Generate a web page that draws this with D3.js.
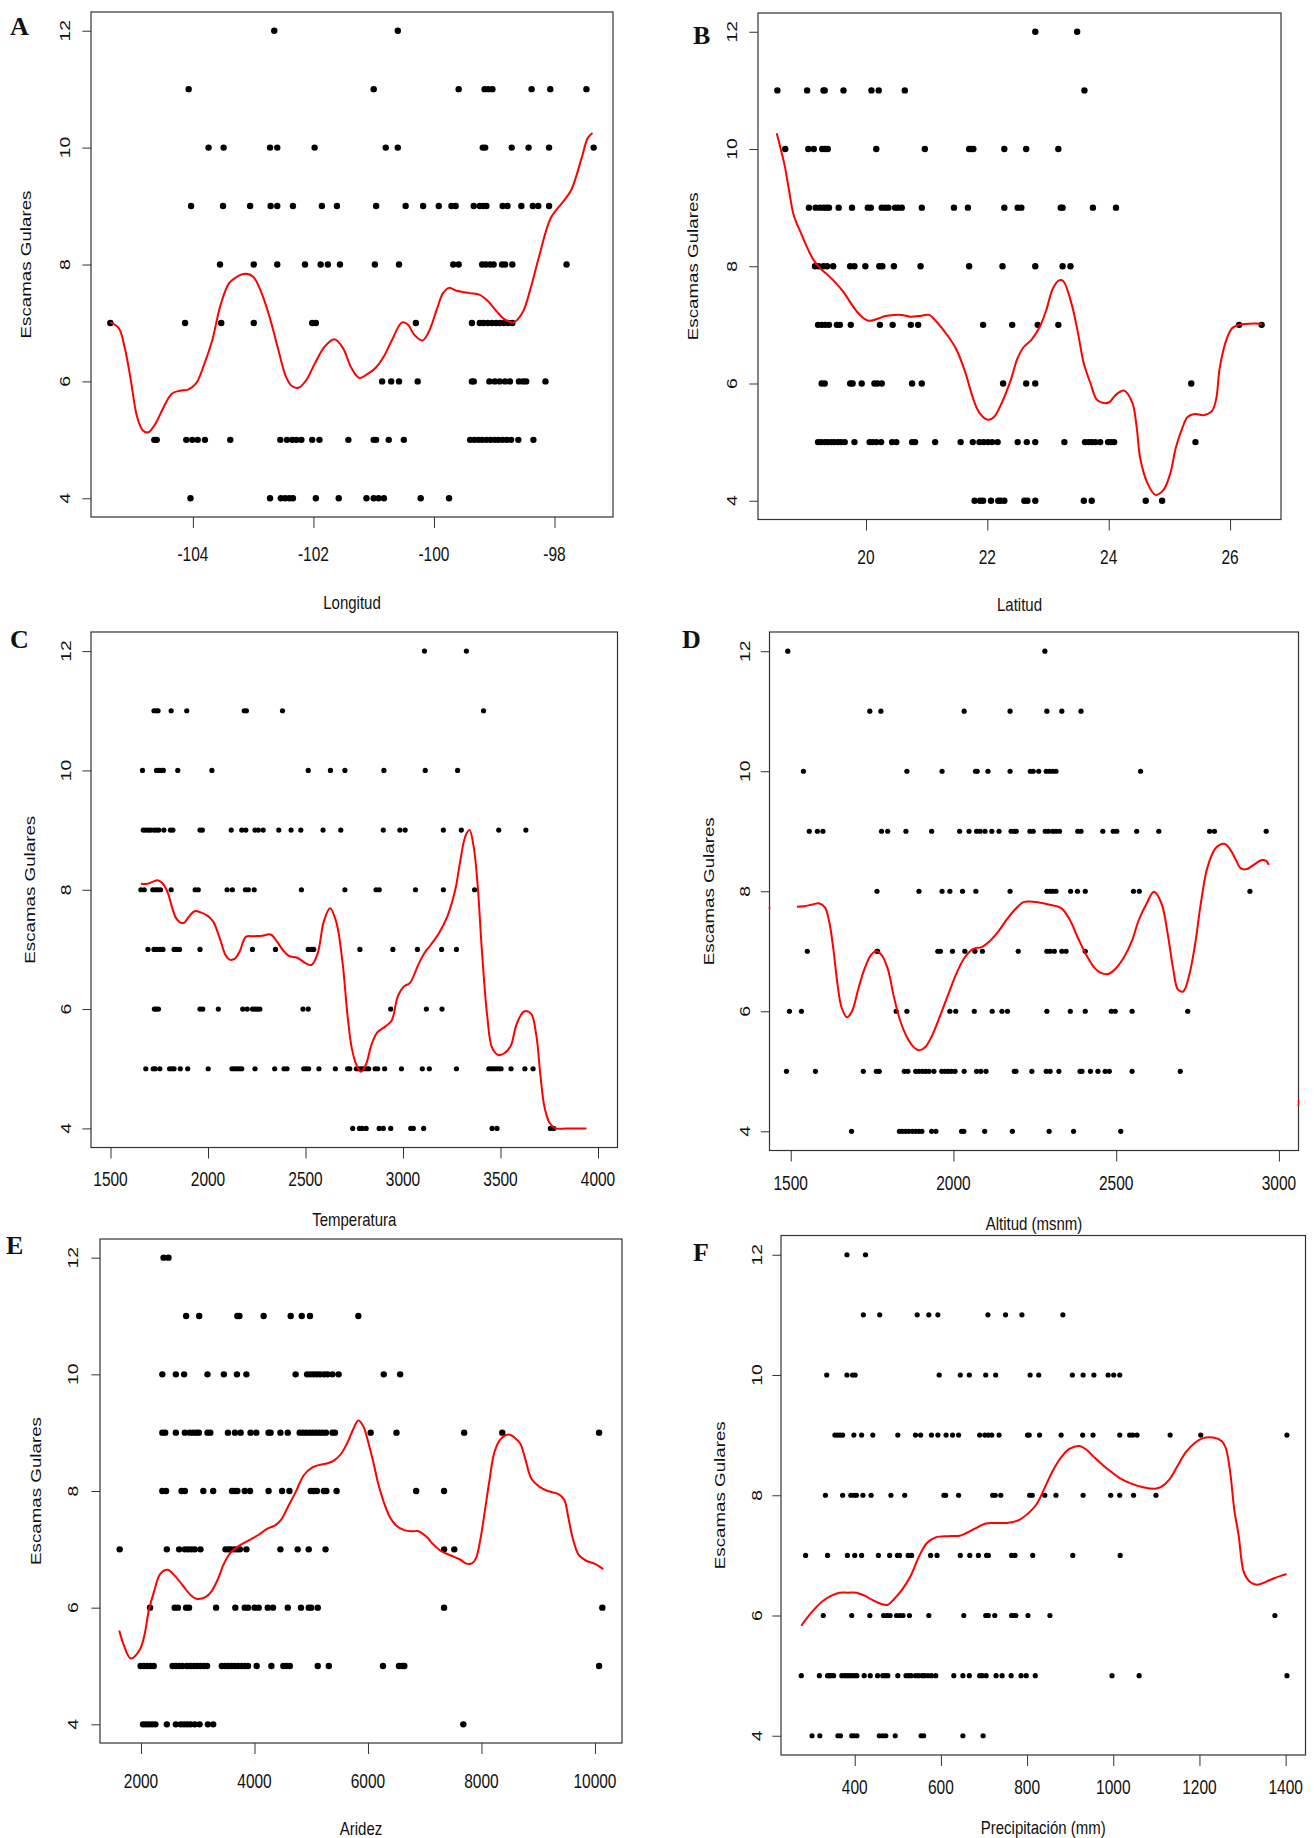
<!DOCTYPE html>
<html>
<head>
<meta charset="utf-8">
<script src="https://cdn.jsdelivr.net/npm/d3@7"></script>
<style>
  body { margin: 0; background: #fff; }
  text { font-family: "Liberation Sans", Arial, sans-serif; fill: #111; }
  .panel-letter { font-family: "Liberation Serif", "Times New Roman", serif; font-weight: bold; }
</style>
</head>
<body>
<svg id="fig"></svg>
<script>
// ---- data ----
const yTicks = [4, 6, 8, 10, 12];
const yTitle = "Escamas Gulares";

// A: Longitud
const lonTicks = [-104, -102, -100, -98];
const lonPoints = [
  [12, [-102.65, -100.60]],
  [11, [-104.07, -101.00, -99.59, -99.16, -99.10, -99.03, -98.38, -98.07, -97.47]],
  [10, [-103.74, -103.49, -102.72, -102.60, -101.98, -100.80, -100.60, -99.19, -99.15, -98.71, -98.43, -98.09, -97.35]],
  [9, [-104.03, -103.50, -103.05, -102.71, -102.60, -102.34, -101.86, -101.61, -100.96, -100.47, -100.18, -99.92, -99.71, -99.64, -99.34, -99.24, -99.18, -99.13, -98.86, -98.78, -98.55, -98.36, -98.27, -98.09]],
  [8, [-103.55, -102.99, -102.60, -102.14, -101.88, -101.76, -101.56, -100.98, -100.58, -99.68, -99.59, -99.20, -99.14, -99.07, -99.01, -98.87, -98.82, -98.70, -97.80]],
  [7, [-105.37, -104.13, -103.53, -102.99, -102.02, -101.96, -100.30, -99.37, -99.24, -99.18, -99.11, -99.04, -98.97, -98.91, -98.84, -98.77, -98.70]],
  [6, [-100.86, -100.71, -100.58, -100.27, -99.37, -99.34, -99.08, -98.99, -98.91, -98.82, -98.74, -98.59, -98.52, -98.47, -98.15]],
  [5, [-104.64, -104.60, -104.11, -104.01, -103.92, -103.80, -103.38, -102.55, -102.44, -102.35, -102.28, -102.20, -102.02, -101.90, -101.42, -101.00, -100.96, -100.75, -100.50, -99.40, -99.33, -99.26, -99.20, -99.13, -99.06, -98.99, -98.93, -98.86, -98.79, -98.72, -98.60, -98.35]],
  [4, [-104.04, -102.72, -102.54, -102.47, -102.40, -102.34, -101.96, -101.58, -101.12, -101.00, -100.92, -100.83, -100.22, -99.75]]
];
const lonCurve = [[-105.37,7.01],[-105.23,6.91],[-105.13,6.57],[-105.03,6.02],[-104.93,5.41],[-104.83,5.16],[-104.74,5.13],[-104.62,5.28],[-104.49,5.55],[-104.35,5.79],[-104.22,5.84],[-104.08,5.86],[-103.95,5.96],[-103.81,6.30],[-103.68,6.70],[-103.54,7.31],[-103.40,7.68],[-103.27,7.79],[-103.13,7.84],[-103.00,7.79],[-102.86,7.51],[-102.73,7.11],[-102.59,6.57],[-102.46,6.09],[-102.36,5.92],[-102.25,5.89],[-102.12,6.02],[-101.98,6.30],[-101.81,6.60],[-101.65,6.72],[-101.51,6.57],[-101.37,6.23],[-101.24,6.06],[-101.10,6.13],[-100.97,6.23],[-100.83,6.43],[-100.70,6.70],[-100.53,7.01],[-100.43,6.97],[-100.33,6.80],[-100.19,6.70],[-100.09,6.84],[-99.95,7.24],[-99.85,7.51],[-99.75,7.60],[-99.62,7.55],[-99.41,7.51],[-99.24,7.48],[-99.11,7.38],[-98.97,7.21],[-98.84,7.07],[-98.68,7.01],[-98.53,7.18],[-98.40,7.58],[-98.26,8.12],[-98.06,8.80],[-97.86,9.07],[-97.72,9.28],[-97.55,9.82],[-97.45,10.16],[-97.37,10.25]];

// B: Latitud
const latTicks = [20, 22, 24, 26];
const latPoints = [
  [12, [22.79, 23.48]],
  [11, [18.54, 19.03, 19.30, 19.32, 19.63, 20.09, 20.21, 20.64, 23.60]],
  [10, [18.67, 19.05, 19.14, 19.28, 19.33, 19.37, 20.17, 20.97, 21.70, 21.74, 21.77, 22.28, 22.64, 23.17]],
  [9, [19.06, 19.17, 19.24, 19.30, 19.35, 19.39, 19.55, 19.77, 20.03, 20.08, 20.26, 20.32, 20.37, 20.48, 20.53, 20.59, 20.92, 21.45, 21.68, 22.28, 22.50, 22.56, 23.21, 23.24, 23.74, 24.12]],
  [8, [19.16, 19.22, 19.30, 19.36, 19.46, 19.74, 19.81, 19.99, 20.22, 20.27, 20.46, 20.90, 21.70, 22.25, 22.79, 23.24, 23.37]],
  [7, [19.21, 19.27, 19.33, 19.39, 19.52, 19.57, 19.75, 20.23, 20.44, 20.74, 20.86, 21.93, 22.41, 22.83, 23.17, 26.15, 26.52]],
  [6, [19.27, 19.32, 19.74, 19.78, 19.93, 20.14, 20.19, 20.26, 20.76, 20.92, 22.26, 22.64, 22.79, 25.36]],
  [5, [19.21, 19.26, 19.32, 19.37, 19.43, 19.48, 19.54, 19.59, 19.65, 19.81, 20.06, 20.11, 20.17, 20.25, 20.43, 20.50, 20.76, 20.81, 21.14, 21.56, 21.76, 21.87, 21.94, 22.01, 22.08, 22.17, 22.50, 22.65, 22.79, 23.27, 23.61, 23.67, 23.72, 23.78, 23.86, 23.99, 24.04, 24.09, 25.43]],
  [4, [21.79, 21.88, 21.93, 22.06, 22.18, 22.22, 22.28, 22.61, 22.66, 22.79, 23.59, 23.72, 24.61, 24.88]]
];
const latCurve = [[18.53,10.27],[18.59,10.02],[18.66,9.72],[18.73,9.31],[18.81,8.87],[18.94,8.54],[19.04,8.30],[19.14,8.10],[19.25,7.96],[19.35,7.87],[19.49,7.73],[19.63,7.56],[19.77,7.34],[19.90,7.17],[20.04,7.07],[20.18,7.10],[20.32,7.15],[20.46,7.17],[20.59,7.17],[20.73,7.14],[20.87,7.15],[21.04,7.17],[21.14,7.08],[21.35,6.81],[21.49,6.58],[21.63,6.21],[21.77,5.73],[21.87,5.50],[22.01,5.38],[22.11,5.43],[22.25,5.70],[22.39,6.07],[22.49,6.41],[22.59,6.61],[22.73,6.75],[22.87,6.98],[22.97,7.25],[23.08,7.62],[23.18,7.76],[23.25,7.75],[23.39,7.35],[23.49,6.88],[23.59,6.34],[23.70,6.00],[23.80,5.73],[23.90,5.67],[24.01,5.68],[24.11,5.80],[24.25,5.88],[24.39,5.67],[24.46,5.26],[24.52,4.72],[24.63,4.32],[24.77,4.10],[24.90,4.18],[25.01,4.45],[25.11,4.92],[25.21,5.23],[25.30,5.43],[25.42,5.48],[25.56,5.46],[25.70,5.53],[25.77,5.73],[25.83,6.27],[25.94,6.75],[26.04,6.95],[26.14,7.00],[26.32,7.02],[26.52,7.02]];

// C: Temperatura
const tempTicks = [1500, 2000, 2500, 3000, 3500, 4000];
const tempPoints = [
  [12, [3110, 3325]],
  [11, [1723, 1736, 1744, 1811, 1891, 2186, 2197, 2382, 3413]],
  [10, [1664, 1736, 1748, 1761, 1771, 1845, 2020, 2514, 2628, 2702, 2902, 3114, 3280]],
  [9, [1668, 1681, 1694, 1706, 1723, 1736, 1748, 1774, 1807, 1820, 1959, 1971, 2119, 2173, 2194, 2241, 2258, 2283, 2363, 2426, 2476, 2590, 2681, 2899, 2984, 3011, 3207, 3299, 3491, 3630]],
  [8, [1656, 1673, 1717, 1731, 1744, 1757, 1811, 1934, 1950, 2098, 2125, 2192, 2207, 2237, 2479, 2702, 2862, 2878, 3064, 3207, 3367]],
  [7, [1692, 1723, 1738, 1755, 1769, 1826, 1839, 1854, 1959, 2228, 2346, 2514, 2531, 2542, 2779, 2948, 3074, 3198, 3274]],
  [6, [1725, 1734, 1746, 1959, 1973, 2053, 2178, 2201, 2228, 2241, 2253, 2266, 2487, 2514, 2937, 3120, 3200]],
  [5, [1681, 1719, 1729, 1753, 1803, 1816, 1826, 1858, 1896, 2001, 2123, 2136, 2148, 2161, 2173, 2241, 2342, 2390, 2405, 2491, 2504, 2516, 2569, 2653, 2716, 2727, 2761, 2773, 2786, 2798, 2811, 2824, 2857, 2870, 2906, 2992, 3099, 3135, 3274, 3440, 3453, 3465, 3478, 3491, 3503, 3554, 3625, 3667]],
  [4, [2742, 2777, 2790, 2811, 2878, 2899, 2937, 3040, 3053, 3106, 3457, 3482, 3756, 3773]]
];
const tempCurve = [[1656,8.10],[1689,8.10],[1721,8.14],[1742,8.16],[1769,8.10],[1795,7.94],[1816,7.70],[1837,7.52],[1858,7.45],[1879,7.45],[1900,7.54],[1931,7.64],[1963,7.62],[1995,7.57],[2026,7.47],[2047,7.31],[2068,7.11],[2089,6.91],[2110,6.83],[2136,6.84],[2163,6.97],[2194,7.21],[2237,7.22],[2279,7.23],[2321,7.25],[2352,7.14],[2384,6.99],[2415,6.89],[2458,6.86],[2500,6.77],[2531,6.74],[2563,6.94],[2594,7.47],[2626,7.69],[2657,7.47],[2689,6.81],[2716,5.88],[2737,5.35],[2763,5.05],[2784,4.95],[2811,5.08],[2836,5.38],[2868,5.61],[2910,5.71],[2942,5.81],[2973,6.21],[3005,6.38],[3036,6.44],[3078,6.74],[3110,6.94],[3141,7.07],[3184,7.27],[3226,7.54],[3268,8.00],[3293,8.47],[3320,8.90],[3341,9.00],[3362,8.73],[3383,8.07],[3404,7.01],[3432,5.88],[3457,5.35],[3489,5.23],[3520,5.26],[3552,5.38],[3583,5.75],[3621,5.96],[3657,5.92],[3684,5.55],[3705,4.88],[3726,4.35],[3752,4.09],[3783,4.00],[3836,4.00],[3941,4.00]];

// D: Altitud
const altTicks = [1500, 2000, 2500, 3000];
const altPoints = [
  [12, [1491, 2281]],
  [11, [1743, 1777, 2033, 2174, 2287, 2333, 2392]],
  [10, [1539, 1857, 1965, 2068, 2073, 2106, 2174, 2236, 2245, 2262, 2285, 2295, 2305, 2315, 2575]],
  [9, [1557, 1582, 1599, 1779, 1798, 1854, 1933, 2019, 2048, 2071, 2082, 2097, 2118, 2140, 2177, 2187, 2193, 2235, 2245, 2282, 2292, 2305, 2315, 2326, 2382, 2392, 2459, 2491, 2502, 2563, 2631, 2787, 2802, 2961]],
  [8, [1765, 1894, 1965, 1989, 2028, 2069, 2174, 2287, 2297, 2305, 2315, 2360, 2381, 2405, 2553, 2571, 2911]],
  [7, [1551, 1765, 1767, 1952, 1960, 1997, 2035, 2066, 2089, 2199, 2287, 2297, 2310, 2333, 2346, 2405]],
  [6, [1496, 1533, 1824, 1857, 1989, 2007, 2064, 2119, 2149, 2166, 2287, 2359, 2405, 2485, 2497, 2549, 2720]],
  [5, [1487, 1576, 1723, 1763, 1772, 1849, 1860, 1884, 1894, 1905, 1915, 1925, 1940, 1964, 1974, 1984, 1994, 2005, 2033, 2071, 2084, 2100, 2187, 2192, 2241, 2285, 2297, 2324, 2389, 2395, 2421, 2444, 2466, 2479, 2549, 2697]],
  [4, [1687, 1834, 1843, 1853, 1863, 1874, 1884, 1894, 1903, 1933, 1946, 2025, 2032, 2096, 2181, 2294, 2369, 2514]]
];
const altCurve = [[1519,7.74],[1541,7.75],[1567,7.78],[1586,7.80],[1605,7.73],[1618,7.50],[1631,7.04],[1644,6.44],[1657,6.05],[1673,5.90],[1689,6.01],[1708,6.38],[1727,6.71],[1747,6.94],[1763,7.00],[1779,6.94],[1798,6.71],[1817,6.24],[1836,5.85],[1856,5.58],[1875,5.42],[1894,5.35],[1913,5.40],[1933,5.58],[1958,5.91],[1984,6.28],[2010,6.64],[2035,6.90],[2061,7.04],[2087,7.07],[2112,7.17],[2138,7.33],[2164,7.53],[2190,7.70],[2215,7.82],[2235,7.83],[2254,7.82],[2292,7.78],[2331,7.72],[2357,7.53],[2382,7.23],[2408,6.94],[2434,6.72],[2453,6.64],[2475,6.62],[2498,6.71],[2524,6.90],[2549,7.18],[2568,7.50],[2594,7.80],[2616,7.99],[2639,7.80],[2658,7.30],[2675,6.71],[2690,6.36],[2706,6.33],[2723,6.57],[2742,7.10],[2761,7.83],[2780,8.39],[2806,8.72],[2832,8.79],[2851,8.69],[2868,8.52],[2883,8.38],[2902,8.37],[2922,8.44],[2948,8.52],[2960,8.51],[2969,8.44]];
// red stubs of the smoother that show on the frame of panel D: [side, y]
const altEdgeMarks = [["left", 7.72], ["right", 4.47]];

// E: Aridez
const ariTicks = [2000, 4000, 6000, 8000, 10000];
const ariPoints = [
  [12, [2397, 2484]],
  [11, [2795, 3026, 3698, 3734, 4161, 4638, 4833, 4978, 5830]],
  [10, [2376, 2614, 2759, 3171, 3460, 3691, 3857, 4725, 4927, 4985, 5043, 5100, 5158, 5230, 5288, 5375, 5483, 6278, 6567]],
  [9, [2376, 2426, 2614, 2773, 2860, 2918, 2976, 3019, 3171, 3221, 3532, 3655, 3756, 3930, 4031, 4248, 4284, 4457, 4587, 4797, 4855, 4912, 4970, 5028, 5086, 5144, 5202, 5259, 5375, 5418, 6047, 6502, 7695, 8367, 10073]],
  [8, [2376, 2441, 2715, 2773, 3098, 3272, 3604, 3648, 3698, 3828, 3922, 4248, 4486, 4616, 4992, 5043, 5100, 5223, 5267, 5447, 6849, 7341]],
  [7, [1624, 2455, 2672, 2773, 2831, 2889, 2947, 3048, 3489, 3539, 3583, 3641, 3691, 3742, 3857, 4457, 4761, 4956, 5252, 7341, 7521]],
  [6, [2159, 2593, 2650, 2795, 2846, 3323, 3662, 3828, 3886, 4002, 4074, 4233, 4327, 4587, 4819, 4956, 4999, 5115, 7341, 10130]],
  [5, [1993, 2051, 2108, 2166, 2224, 2556, 2614, 2672, 2730, 2809, 2874, 2932, 2990, 3048, 3106, 3164, 3424, 3482, 3539, 3597, 3655, 3713, 3771, 3828, 3886, 4038, 4298, 4508, 4566, 4623, 5115, 5310, 6264, 6546, 6604, 6640, 10073]],
  [4, [2036, 2087, 2137, 2195, 2253, 2455, 2614, 2701, 2759, 2817, 2874, 2947, 3033, 3178, 3272, 7680]]
];
const ariCurve = [[1617,5.61],[1689,5.38],[1819,5.13],[1978,5.28],[2065,5.55],[2137,5.95],[2231,6.28],[2340,6.58],[2470,6.65],[2593,6.55],[2737,6.38],[2882,6.21],[2990,6.15],[3135,6.18],[3243,6.28],[3351,6.48],[3460,6.75],[3568,6.93],[3713,7.05],[3893,7.15],[4074,7.25],[4219,7.35],[4363,7.41],[4472,7.51],[4580,7.71],[4725,7.98],[4869,8.27],[5014,8.40],[5158,8.45],[5303,8.48],[5411,8.53],[5520,8.63],[5628,8.81],[5736,9.05],[5830,9.21],[5917,9.11],[6011,8.81],[6098,8.48],[6184,8.11],[6278,7.81],[6387,7.55],[6495,7.41],[6640,7.33],[6784,7.31],[6893,7.31],[7037,7.21],[7146,7.09],[7290,6.97],[7471,6.89],[7615,6.83],[7724,6.76],[7832,6.76],[7904,6.85],[7977,7.15],[8063,7.68],[8136,8.15],[8230,8.67],[8338,8.89],[8483,8.97],[8591,8.91],[8685,8.81],[8772,8.55],[8880,8.21],[9025,8.07],[9169,8.00],[9350,7.95],[9458,7.85],[9530,7.55],[9603,7.21],[9711,6.91],[9856,6.80],[10000,6.75],[10145,6.66]];

// F: Precipitacion
const preTicks = [400, 600, 800, 1000, 1200, 1400];
const prePoints = [
  [12, [382, 425]],
  [11, [420, 458, 545, 572, 593, 709, 750, 788, 883]],
  [10, [335, 382, 395, 401, 596, 645, 666, 704, 727, 807, 827, 905, 930, 955, 988, 1001, 1015]],
  [9, [354, 360, 366, 372, 398, 416, 442, 500, 541, 553, 578, 593, 612, 627, 641, 690, 702, 710, 718, 735, 801, 805, 829, 879, 929, 953, 1015, 1038, 1045, 1055, 1132, 1203, 1403]],
  [8, [332, 372, 391, 399, 404, 419, 438, 484, 516, 607, 611, 641, 720, 726, 739, 806, 812, 841, 867, 930, 994, 1015, 1047, 1099]],
  [7, [286, 337, 383, 400, 416, 455, 481, 499, 504, 524, 532, 576, 591, 645, 667, 687, 706, 710, 764, 772, 813, 906, 1016]],
  [6, [327, 393, 435, 467, 475, 482, 497, 505, 512, 527, 572, 653, 704, 710, 725, 764, 769, 774, 802, 853, 1375]],
  [5, [276, 318, 337, 341, 345, 351, 370, 376, 382, 387, 393, 399, 405, 422, 436, 453, 465, 471, 477, 500, 519, 525, 531, 541, 548, 556, 562, 570, 578, 588, 630, 651, 666, 690, 696, 705, 728, 742, 763, 786, 798, 819, 997, 1060, 1403]],
  [4, [301, 319, 361, 367, 393, 398, 405, 457, 465, 472, 494, 554, 560, 651, 698]]
];
const preCurve = [[276,5.83],[288,5.95],[307,6.11],[326,6.24],[346,6.33],[365,6.38],[384,6.38],[404,6.38],[423,6.33],[443,6.25],[462,6.19],[477,6.18],[491,6.27],[510,6.43],[530,6.66],[549,6.98],[568,7.21],[588,7.30],[617,7.32],[646,7.33],[675,7.43],[704,7.53],[724,7.54],[753,7.54],[782,7.59],[801,7.69],[822,7.85],[840,8.11],[859,8.40],[879,8.63],[898,8.77],[922,8.82],[937,8.76],[956,8.63],[976,8.50],[995,8.39],[1014,8.29],[1043,8.19],[1072,8.13],[1097,8.11],[1111,8.14],[1131,8.27],[1150,8.50],[1169,8.72],[1189,8.87],[1208,8.95],[1232,8.96],[1252,8.90],[1261,8.79],[1271,8.40],[1281,7.75],[1291,7.33],[1303,6.72],[1317,6.56],[1334,6.51],[1354,6.56],[1373,6.62],[1393,6.67],[1402,6.69]];

// ---- layout ----
const W = 1314, H = 1838;
const TXT_K = 1.25; // vertical stretch of the original figure

const panels = [
  { letter: "A", title: "Longitud", pts: lonPoints, curve: lonCurve, ticks: lonTicks, xlim: [-105.37, -97.35],
    box: [91, 12, 613, 517], xtOff: 44, xlOff: 92, ytOff: 21, ylOff: 60, lx: 10, ly: 35, r: 3.2 },
  { letter: "B", title: "Latitud", pts: latPoints, curve: latCurve, ticks: latTicks, xlim: [18.54, 26.52],
    box: [758, 13, 1281, 519.5], xtOff: 44.5, xlOff: 91.5, ytOff: 21, ylOff: 60, lx: 693, ly: 44, r: 3.2 },
  { letter: "C", title: "Temperatura", pts: tempPoints, curve: tempCurve, ticks: tempTicks, xlim: [1500, 4000],
    box: [91, 632, 617.5, 1147.5], xtOff: 38.5, xlOff: 78, ytOff: 20.5, ylOff: 56, lx: 10, ly: 648, r: 2.6 },
  { letter: "D", title: "Altitud (msnm)", pts: altPoints, curve: altCurve, ticks: altTicks, xlim: [1495, 3000],
    box: [769.5, 632, 1298.5, 1150.5], xtOff: 39.5, xlOff: 79.5, ytOff: 19.5, ylOff: 56, lx: 682, ly: 648, r: 2.6,
    edges: altEdgeMarks },
  { letter: "E", title: "Aridez", pts: ariPoints, curve: ariCurve, ticks: ariTicks, xlim: [1618, 10136],
    box: [100, 1239, 622, 1743], xtOff: 45, xlOff: 92, ytOff: 21.7, ylOff: 58.7, lx: 6, ly: 1254, r: 3.2 },
  { letter: "F", title: "Precipitación (mm)", pts: prePoints, curve: preCurve, ticks: preTicks, xlim: [274, 1401],
    box: [781, 1235.5, 1305.5, 1755], xtOff: 39, xlOff: 78.5, ytOff: 19, ylOff: 56, lx: 693, ly: 1261, r: 2.6 }
];

// R style 4% padding
const pad = ([a, b]) => { const d = (b - a) * 0.04; return [a - d, b + d]; };

const svg = d3.select("#fig").attr("width", W).attr("height", H);
svg.append("rect").attr("width", W).attr("height", H).attr("fill", "#fff");

panels.forEach((p, i) => {
  const [x0, y0, x1, y1] = p.box;
  const x = d3.scaleLinear().domain(pad(p.xlim)).range([x0, x1]);
  const y = d3.scaleLinear().domain(pad([4, 12])).range([y1, y0]);

  const g = svg.append("g");

  // clip for the smoother
  svg.append("clipPath").attr("id", "clip" + i)
    .append("rect").attr("x", x0).attr("y", y0).attr("width", x1 - x0).attr("height", y1 - y0);

  // tick marks
  const xAxis = g.append("g").attr("transform", `translate(0,${y1})`)
    .call(d3.axisBottom(x).tickValues(p.ticks).tickSize(11).tickSizeOuter(0).tickFormat(""));
  const yAxis = g.append("g").attr("transform", `translate(${x0},0)`)
    .call(d3.axisLeft(y).tickValues(yTicks).tickSize(8.6).tickSizeOuter(0).tickFormat(""));
  [xAxis, yAxis].forEach(a => {
    a.select(".domain").remove();
    a.selectAll("line").attr("stroke", "#333").attr("stroke-width", 1);
  });

  // tick labels
  g.selectAll(".xt").data(p.ticks).join("text")
    .attr("transform", d => `translate(${x(d)},${y1 + p.xtOff}) scale(1,${TXT_K})`)
    .attr("text-anchor", "middle").attr("font-size", 15.5)
    .text(d => d);
  g.selectAll(".yt").data(yTicks).join("text")
    .attr("transform", d => `translate(${x0 - p.ytOff},${y(d)}) scale(1,${TXT_K}) rotate(-90)`)
    .attr("text-anchor", "middle").attr("font-size", 15.5)
    .text(d => d);

  // axis titles
  g.append("text")
    .attr("transform", `translate(${(x0 + x1) / 2},${y1 + p.xlOff}) scale(1,${TXT_K})`)
    .attr("text-anchor", "middle").attr("font-size", 15)
    .text(p.title);
  g.append("text")
    .attr("transform", `translate(${x0 - p.ylOff},${(y0 + y1) / 2}) scale(1,${TXT_K}) rotate(-90)`)
    .attr("text-anchor", "middle").attr("font-size", 15)
    .text(yTitle);

  // panel letter
  g.append("text").attr("class", "panel-letter")
    .attr("x", p.lx).attr("y", p.ly).attr("font-size", 26)
    .text(p.letter);

  // points
  const flat = p.pts.flatMap(([v, xs]) => xs.map(xv => ({ x: xv, y: v })));
  g.append("g").selectAll("circle").data(flat).join("circle")
    .attr("cx", d => x(d.x)).attr("cy", d => y(d.y)).attr("r", p.r)
    .attr("fill", "#000");

  // smoother
  const line = d3.line().x(d => x(d[0])).y(d => y(d[1])).curve(d3.curveCatmullRom.alpha(0.5));
  g.append("path").datum(p.curve)
    .attr("clip-path", `url(#clip${i})`)
    .attr("fill", "none").attr("stroke", "#ff0000").attr("stroke-width", 2)
    .attr("d", line);

  // plot box
  g.append("rect").attr("x", x0).attr("y", y0).attr("width", x1 - x0).attr("height", y1 - y0)
    .attr("fill", "none").attr("stroke", "#333").attr("stroke-width", 1.2);

  // red stubs sitting on the frame
  if (p.edges) {
    g.selectAll(".edge").data(p.edges).join("line")
      .attr("x1", d => d[0] === "left" ? x0 : x1).attr("x2", d => d[0] === "left" ? x0 : x1)
      .attr("y1", d => y(d[1]) - (d[0] === "left" ? 1 : 3))
      .attr("y2", d => y(d[1]) + (d[0] === "left" ? 1 : 3))
      .attr("stroke", "#ff0000").attr("stroke-width", 1.6);
  }
});
</script>
</body>
</html>
